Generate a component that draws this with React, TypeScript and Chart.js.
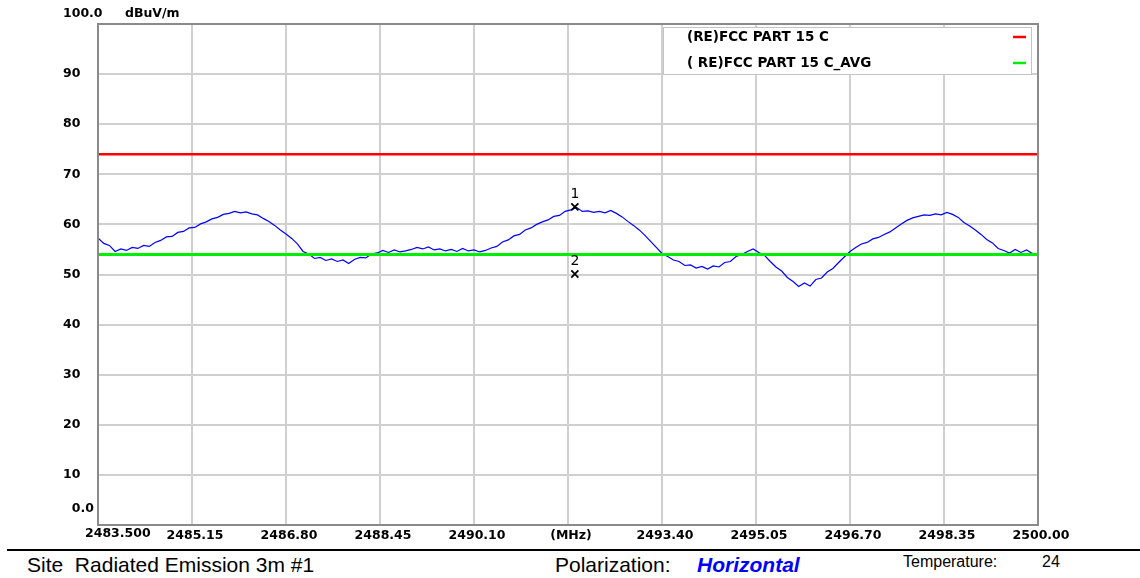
import React, { useEffect, useRef } from 'react';
import { Chart, registerables } from 'chart.js';

Chart.register(...registerables);

// ---- data ----
const FREQ_MHZ = [
  2483.5, 2483.6, 2483.7, 2483.8, 2483.9, 2484.0, 2484.1, 2484.2, 2484.3, 2484.4,
  2484.5, 2484.6, 2484.7, 2484.8, 2484.9, 2485.0, 2485.1, 2485.2, 2485.3, 2485.4,
  2485.5, 2485.6, 2485.7, 2485.8, 2485.9, 2486.0, 2486.1, 2486.2, 2486.3, 2486.4,
  2486.5, 2486.6, 2486.7, 2486.8, 2486.9, 2487.0, 2487.1, 2487.2, 2487.3, 2487.4,
  2487.5, 2487.6, 2487.7, 2487.8, 2487.9, 2488.0, 2488.1, 2488.2, 2488.3, 2488.4,
  2488.5, 2488.6, 2488.7, 2488.8, 2488.9, 2489.0, 2489.1, 2489.2, 2489.3, 2489.4,
  2489.5, 2489.6, 2489.7, 2489.8, 2489.9, 2490.0, 2490.1, 2490.2, 2490.3, 2490.4,
  2490.5, 2490.6, 2490.7, 2490.8, 2490.9, 2491.0, 2491.1, 2491.2, 2491.3, 2491.4,
  2491.5, 2491.6, 2491.7, 2491.8, 2491.9, 2492.0, 2492.1, 2492.2, 2492.3, 2492.4,
  2492.5, 2492.6, 2492.7, 2492.8, 2492.9, 2493.0, 2493.1, 2493.2, 2493.3, 2493.4,
  2493.5, 2493.6, 2493.7, 2493.8, 2493.9, 2494.0, 2494.1, 2494.2, 2494.3, 2494.4,
  2494.5, 2494.6, 2494.7, 2494.8, 2494.9, 2495.0, 2495.1, 2495.2, 2495.3, 2495.4,
  2495.5, 2495.6, 2495.7, 2495.8, 2495.9, 2496.0, 2496.1, 2496.2, 2496.3, 2496.4,
  2496.5, 2496.6, 2496.7, 2496.8, 2496.9, 2497.0, 2497.1, 2497.2, 2497.3, 2497.4,
  2497.5, 2497.6, 2497.7, 2497.8, 2497.9, 2498.0, 2498.1, 2498.2, 2498.3, 2498.4,
  2498.5, 2498.6, 2498.7, 2498.8, 2498.9, 2499.0, 2499.1, 2499.2, 2499.3, 2499.4,
  2499.5, 2499.6, 2499.7, 2499.8, 2499.9, 2500.0,
];

const LEVEL_DBUV = [
  57.3, 56.2, 55.8, 54.6, 55.1, 54.8, 55.4, 55.2, 55.8, 55.6,
  56.4, 56.8, 57.5, 57.6, 58.4, 58.6, 59.3, 59.4, 60.1, 60.5,
  61.1, 61.4, 62.0, 62.2, 62.6, 62.3, 62.5, 62.1, 61.9, 61.2,
  60.6, 59.8, 58.9, 58.1, 57.2, 56.1, 54.6, 54.1, 53.2, 53.4,
  52.8, 53.1, 52.6, 52.9, 52.2, 53.0, 53.4, 53.3, 54.1, 54.3,
  54.8, 54.4, 54.9, 54.5, 54.7, 55.0, 55.4, 55.1, 55.5, 54.9,
  55.1, 54.7, 55.0, 54.6, 55.2, 54.7, 54.9, 54.5, 54.8, 55.3,
  55.6, 56.5, 56.9, 57.7, 58.0, 58.9, 59.3, 60.0, 60.5, 60.9,
  61.6, 61.8, 62.6, 62.9, 63.4, 62.6, 62.7, 62.4, 62.6, 62.3,
  62.8, 62.2, 61.5, 60.6, 59.8, 58.9, 57.8, 56.6, 55.4, 54.2,
  53.6, 52.9, 52.6, 51.8, 51.9, 51.3, 51.6, 51.1, 51.7, 51.5,
  52.4, 52.6, 53.6, 54.0, 54.6, 55.1, 54.4, 53.8, 52.6, 51.5,
  50.7, 49.4, 48.6, 47.6, 48.3, 47.7, 49.0, 49.3, 50.5, 51.2,
  52.4, 53.5, 54.6, 55.4, 56.1, 56.4, 57.1, 57.4, 58.0, 58.5,
  59.3, 60.1, 60.8, 61.3, 61.6, 61.9, 61.8, 62.1, 61.9, 62.4,
  62.0, 61.4, 60.4, 59.7, 58.9, 58.0, 57.0, 56.3, 55.2, 54.8,
  54.3, 55.0, 54.4, 54.9, 54.2, 54.0,
];

const LIMIT_FREQS = [2483.5, 2500.0];
const LIMIT_PEAK = [74, 74];
const LIMIT_AVG = [54, 54];

const MARKER_FREQ = [2491.87, 2491.87];
const MARKER_LEVEL = [63.5, 50.1];
const MARKER_IDS = ['1', '2'];

const X_TICKS = [2483.5, 2485.15, 2486.8, 2488.45, 2490.1, 2491.75, 2493.4, 2495.05, 2496.7, 2498.35, 2500.0];
const X_TICK_LABELS = ['2483.500', '2485.15', '2486.80', '2488.45', '2490.10', '(MHz)', '2493.40', '2495.05', '2496.70', '2498.35', '2500.00'];
const Y_TICKS = [0, 10, 20, 30, 40, 50, 60, 70, 80, 90, 100];
const Y_TICK_LABELS = ['0.0', '10', '20', '30', '40', '50', '60', '70', '80', '90', '100.0'];
const Y_UNIT = 'dBuV/m';

const LEGEND_LABELS = ['(RE)FCC PART 15 C', '( RE)FCC PART 15 C_AVG'];
const LEGEND_COLORS = ['#ff0000', '#00ee00'];

const FOOTER_SITE = 'Site  Radiated Emission 3m #1';
const FOOTER_POL_LABEL = 'Polarization:';
const FOOTER_POL_VALUE = 'Horizontal';
const FOOTER_TEMP_LABEL = 'Temperature:';
const FOOTER_TEMP_VALUE = '24';

// ---- styles ----
const TICK_FONT = 'bold 12.5px "DejaVu Sans"';
const LEGEND_FONT = 'bold 13.5px "DejaVu Sans"';

const overlayPlugin = {
  id: 'overlay',
  afterDraw(chart: any) {
    const { ctx, chartArea } = chart;
    const x = chart.scales.x;
    const y = chart.scales.y;
    ctx.save();
    // frame
    ctx.strokeStyle = '#8a8a8a';
    ctx.lineWidth = 2;
    ctx.strokeRect(chartArea.left, chartArea.top, chartArea.right - chartArea.left, chartArea.bottom - chartArea.top);

    // y end labels + unit
    ctx.fillStyle = '#000';
    ctx.font = TICK_FONT;
    ctx.textBaseline = 'middle';
    ctx.textAlign = 'left';
    ctx.fillText(Y_TICK_LABELS[Y_TICK_LABELS.length - 1], 63, y.getPixelForValue(Y_TICKS[Y_TICKS.length - 1]) - 10);
    ctx.fillText(Y_UNIT, 125, y.getPixelForValue(Y_TICKS[Y_TICKS.length - 1]) - 10);
    ctx.textAlign = 'right';
    ctx.fillText(Y_TICK_LABELS[0], 94, y.getPixelForValue(Y_TICKS[0]) - 16);

    // first x label
    ctx.textAlign = 'left';
    ctx.fillText(X_TICK_LABELS[0], x.getPixelForValue(X_TICKS[0]) - 13, chartArea.bottom + 9);

    // legend box
    const bx = 663, by = 27, bw = 368, bh = 47;
    ctx.fillStyle = '#ffffff';
    ctx.fillRect(bx, by, bw, bh);
    ctx.strokeStyle = '#c4c4c4';
    ctx.lineWidth = 1;
    ctx.strokeRect(bx + 0.5, by + 0.5, bw, bh);
    ctx.font = LEGEND_FONT;
    ctx.textAlign = 'left';
    ctx.textBaseline = 'middle';
    LEGEND_LABELS.forEach((lab, i) => {
      const ry = 37 + i * 26;
      ctx.fillStyle = '#000';
      ctx.fillText(lab, 687, ry);
      ctx.strokeStyle = LEGEND_COLORS[i];
      ctx.lineWidth = 2.5;
      ctx.beginPath();
      ctx.moveTo(1013, ry);
      ctx.lineTo(1026, ry);
      ctx.stroke();
    });

    // marker numbers
    const meta = chart.getDatasetMeta(0);
    ctx.fillStyle = '#000';
    ctx.font = '14px "DejaVu Sans"';
    ctx.textAlign = 'center';
    meta.data.forEach((pt: any, i: number) => {
      ctx.fillText(MARKER_IDS[i], pt.x, pt.y - 13);
    });
    ctx.restore();
  },
};

export default function App() {
  const ref = useRef<HTMLCanvasElement | null>(null);

  useEffect(() => {
    if (!ref.current) return;
    const chart = new Chart(ref.current, {
      type: 'line',
      data: {
        datasets: [
          {
            label: 'Markers',
            data: MARKER_FREQ.map((f, i) => ({ x: f, y: MARKER_LEVEL[i] })),
            showLine: false,
            pointStyle: 'crossRot',
            pointRadius: 5,
            pointBorderColor: '#000',
            pointBorderWidth: 1.8,
            borderColor: '#000',
          },
          {
            label: LEGEND_LABELS[0],
            data: LIMIT_FREQS.map((f, i) => ({ x: f, y: LIMIT_PEAK[i] })),
            borderColor: '#ff0000',
            borderWidth: 2.5,
            pointRadius: 0,
          },
          {
            label: LEGEND_LABELS[1],
            data: LIMIT_FREQS.map((f, i) => ({ x: f, y: LIMIT_AVG[i] })),
            borderColor: '#00ee00',
            borderWidth: 3,
            pointRadius: 0,
          },
          {
            label: 'Trace',
            data: FREQ_MHZ.map((f, i) => ({ x: f, y: LEVEL_DBUV[i] })),
            borderColor: '#0000ff',
            borderWidth: 1.2,
            pointRadius: 0,
            tension: 0,
          },
        ],
      },
      options: {
        animation: false,
        responsive: false,
        devicePixelRatio: 1,
        layout: { padding: { left: 63, top: 24, right: 102, bottom: 0 } },
        plugins: { legend: { display: false }, tooltip: { enabled: false } },
        scales: {
          x: {
            type: 'linear',
            min: X_TICKS[0],
            max: X_TICKS[X_TICKS.length - 1],
            afterBuildTicks: (s: any) => {
              s.ticks = X_TICKS.map((v) => ({ value: v }));
            },
            afterFit: (s: any) => {
              s.height = 20;
            },
            grid: { color: '#d0d0d0', lineWidth: 2, drawTicks: false },
            border: { display: false },
            ticks: {
              autoSkip: false,
              maxRotation: 0,
              padding: 3,
              labelOffset: 3,
              color: '#000',
              font: { family: 'DejaVu Sans', size: 12.5, weight: 'bold' },
              callback: (_v: any, i: number) => (i === 0 ? '' : X_TICK_LABELS[i]),
            },
          },
          y: {
            min: Y_TICKS[0],
            max: Y_TICKS[Y_TICKS.length - 1],
            afterBuildTicks: (s: any) => {
              s.ticks = Y_TICKS.map((v) => ({ value: v }));
            },
            afterFit: (s: any) => {
              s.width = 35;
            },
            grid: { color: '#d0d0d0', lineWidth: 2, drawTicks: false },
            border: { display: false },
            ticks: {
              crossAlign: 'far',
              padding: 0,
              color: '#000',
              font: { family: 'DejaVu Sans', size: 12.5, weight: 'bold' },
              callback: (_v: any, i: number) =>
                i === 0 || i === Y_TICKS.length - 1 ? '' : Y_TICK_LABELS[i],
            },
          },
        },
      },
      plugins: [overlayPlugin],
    } as any);
    return () => chart.destroy();
  }, []);

  const base: React.CSSProperties = {
    position: 'absolute',
    fontFamily: '"Liberation Sans", Arial, sans-serif',
    whiteSpace: 'pre',
    color: '#000',
  };

  return (
    <div style={{ position: 'absolute', left: 0, top: 0, width: 1140, height: 578, background: '#fff', overflow: 'hidden' }}>
      <canvas ref={ref} width={1140} height={545} style={{ display: 'block', position: 'absolute', left: 0, top: 0 }} />
      <div style={{ position: 'absolute', left: 7, top: 549, width: 1133, height: 2, background: '#000' }} />
      <div style={{ ...base, left: 27, top: 554, fontSize: 21, lineHeight: '21px' }}>{FOOTER_SITE}</div>
      <div style={{ ...base, left: 555, top: 554, fontSize: 21, lineHeight: '21px' }}>{FOOTER_POL_LABEL}</div>
      <div style={{ ...base, left: 697, top: 554, fontSize: 21, lineHeight: '21px', fontWeight: 'bold', fontStyle: 'italic', color: '#0000ff' }}>{FOOTER_POL_VALUE}</div>
      <div style={{ ...base, left: 903, top: 554, fontSize: 16, lineHeight: '16px' }}>{FOOTER_TEMP_LABEL}</div>
      <div style={{ ...base, left: 1042, top: 554, fontSize: 16, lineHeight: '16px' }}>{FOOTER_TEMP_VALUE}</div>
    </div>
  );
}
